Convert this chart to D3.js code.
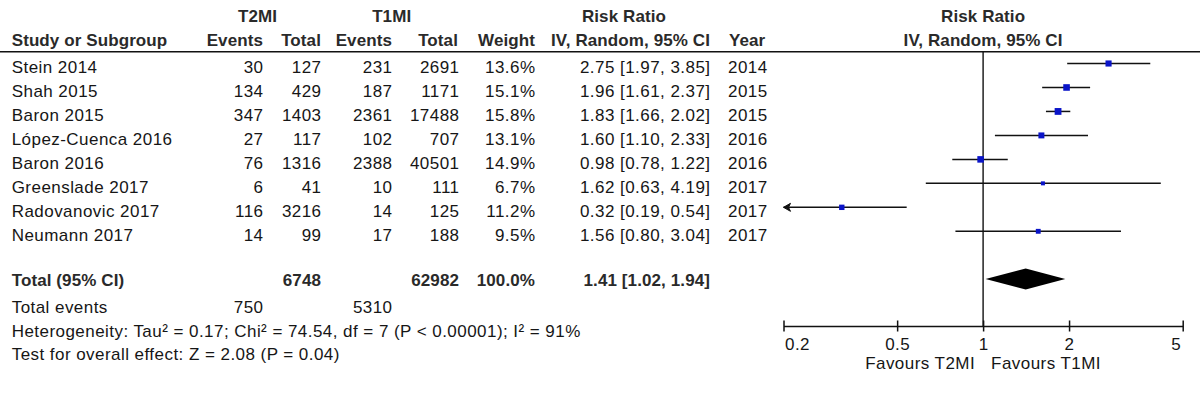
<!DOCTYPE html>
<html>
<head>
<meta charset="utf-8">
<script src="https://cdn.jsdelivr.net/npm/d3@7"></script>
<style>
  html, body { margin: 0; padding: 0; background: #fff; }
  svg { display: block; }
  text { font-family: "Liberation Sans", Arial, sans-serif; font-size: 17px; fill: #161616; letter-spacing: 0.45px; }
  .b { font-weight: bold; fill: #2a2a2a; letter-spacing: 0.1px; }
</style>
</head>
<body>
<svg id="chart" width="1200" height="400"></svg>
<script>
// ---- data ----
const studies   = ["Stein 2014", "Shah 2015", "Baron 2015", "López-Cuenca 2016", "Baron 2016", "Greenslade 2017", "Radovanovic 2017", "Neumann 2017"];
const t2Events  = [30, 134, 347, 27, 76, 6, 116, 14];
const t2Total   = [127, 429, 1403, 117, 1316, 41, 3216, 99];
const t1Events  = [231, 187, 2361, 102, 2388, 10, 14, 17];
const t1Total   = [2691, 1171, 17488, 707, 40501, 111, 125, 188];
const weights   = [13.6, 15.1, 15.8, 13.1, 14.9, 6.7, 11.2, 9.5];
const rr        = [2.75, 1.96, 1.83, 1.60, 0.98, 1.62, 0.32, 1.56];
const ciLow     = [1.97, 1.61, 1.66, 1.10, 0.78, 0.63, 0.19, 0.80];
const ciHigh    = [3.85, 2.37, 2.02, 2.33, 1.22, 4.19, 0.54, 3.04];
const years     = [2014, 2015, 2015, 2016, 2016, 2017, 2017, 2017];
const totalEvents = [750, 5310];
const totalN      = [6748, 62982];
const totalWeight = "100.0%";
const pooled      = [1.41, 1.02, 1.94];
const tickValues  = [0.2, 0.5, 1, 2, 5];
const favours     = ["Favours T2MI", "Favours T1MI"];
const hetText  = "Heterogeneity: Tau² = 0.17; Chi² = 74.54, df = 7 (P < 0.00001); I² = 91%";
const testText = "Test for overall effect: Z = 2.08 (P = 0.04)";

// ---- layout ----
const svg = d3.select("#chart");
svg.append("rect").attr("width", 1200).attr("height", 400).attr("fill", "#fff");

const x = d3.scaleLog().domain([0.2, 5]).range([783.5, 1182.7]);
const y = d3.scaleLinear().domain([0, studies.length - 1]).range([63.5, 231.3]);
const sq = d3.scaleLinear().domain(d3.extent(weights)).range([4, 6.8]);
const fmt2 = d3.format(".2f");
const fmtW = d3.format(".1f");
const textDy = 9.3;

const col = { study: 11.7, t2e: 263.5, t2n: 321.5, t1e: 392.5, t1n: 459.5, w: 535.5, rr: 710.5, year: 728 };

function txt(g, s, xx, yy, anchor, cls) {
  return g.append("text").attr("x", xx).attr("y", yy)
    .attr("text-anchor", anchor || "start").attr("class", cls || null).text(s);
}

// headers
const hdr = svg.append("g");
txt(hdr, "T2MI", 257.5, 22, "middle", "b");
txt(hdr, "T1MI", 391.7, 22, "middle", "b");
txt(hdr, "Risk Ratio", 624, 22, "middle", "b");
txt(hdr, "Risk Ratio", x(1), 22, "middle", "b");
txt(hdr, "Study or Subgroup", col.study, 46, "start", "b");
txt(hdr, "Events", 263, 46, "end", "b");
txt(hdr, "Total", 321, 46, "end", "b");
txt(hdr, "Events", 392, 46, "end", "b");
txt(hdr, "Total", 458, 46, "end", "b");
txt(hdr, "Weight", 535, 46, "end", "b");
txt(hdr, "IV, Random, 95% CI", 710, 46, "end", "b");
txt(hdr, "Year", col.year + 1, 46, "start", "b");
txt(hdr, "IV, Random, 95% CI", x(1), 46, "middle", "b");

svg.append("line").attr("x1", 0).attr("x2", 1200).attr("y1", 51.7).attr("y2", 51.7)
  .attr("stroke", "#111").attr("stroke-width", 1.6);

// study rows text
const rows = svg.append("g");
studies.forEach((s, i) => {
  const yy = y(i) + textDy;
  txt(rows, s, col.study, yy, "start");
  txt(rows, t2Events[i], col.t2e, yy, "end");
  txt(rows, t2Total[i], col.t2n, yy, "end");
  txt(rows, t1Events[i], col.t1e, yy, "end");
  txt(rows, t1Total[i], col.t1n, yy, "end");
  txt(rows, fmtW(weights[i]) + "%", col.w, yy, "end");
  txt(rows, `${fmt2(rr[i])} [${fmt2(ciLow[i])}, ${fmt2(ciHigh[i])}]`, col.rr, yy, "end");
  txt(rows, years[i], col.year, yy, "start");
});

// totals
const yTot = 279;
txt(rows, "Total (95% CI)", col.study, yTot + 7, "start", "b");
txt(rows, totalN[0], 321, yTot + 7, "end", "b");
txt(rows, totalN[1], 459, yTot + 7, "end", "b");
txt(rows, totalWeight, 535, yTot + 7, "end", "b");
txt(rows, `${fmt2(pooled[0])} [${fmt2(pooled[1])}, ${fmt2(pooled[2])}]`, 710, yTot + 7, "end", "b");
txt(rows, "Total events", col.study, 312.7, "start");
txt(rows, totalEvents[0], col.t2e, 312.7, "end");
txt(rows, totalEvents[1], col.t1e, 312.7, "end");
txt(rows, hetText, col.study, 336.7, "start");
txt(rows, testText, col.study, 359.5, "start");

// forest plot
const fp = svg.append("g");
const axisY = 326;
fp.append("line").attr("x1", x(1)).attr("x2", x(1)).attr("y1", 51.7).attr("y2", axisY)
  .attr("stroke", "#111").attr("stroke-width", 1.4);

const [d0, d1] = x.domain();
studies.forEach((s, i) => {
  const yy = y(i);
  const lo = Math.max(ciLow[i], d0), hi = Math.min(ciHigh[i], d1);
  fp.append("line").attr("x1", x(lo)).attr("x2", x(hi)).attr("y1", yy).attr("y2", yy)
    .attr("stroke", "#111").attr("stroke-width", 1.5);
  if (ciLow[i] < d0) {
    const ax = x(d0);
    fp.append("path").attr("d", `M${ax},${yy} L${ax + 7},${yy - 4} L${ax + 5},${yy} L${ax + 7},${yy + 4} Z`)
      .attr("fill", "#111").attr("stroke", "#111").attr("stroke-width", 1);
  }
  if (ciHigh[i] > d1) {
    const ax = x(d1);
    fp.append("path").attr("d", `M${ax},${yy} L${ax - 7},${yy - 4} L${ax - 5},${yy} L${ax - 7},${yy + 4} Z`)
      .attr("fill", "#111").attr("stroke", "#111").attr("stroke-width", 1);
  }
  const s2 = sq(weights[i]);
  fp.append("rect").attr("x", x(rr[i]) - s2 / 2).attr("y", yy - s2 / 2)
    .attr("width", s2).attr("height", s2).attr("fill", "#0a14c8");
});

// pooled diamond
fp.append("path")
  .attr("d", `M${x(pooled[1])},${yTot} L${x(pooled[0])},${yTot - 10.5} L${x(pooled[2])},${yTot} L${x(pooled[0])},${yTot + 10.5} Z`)
  .attr("fill", "#000");

// axis
const axis = d3.axisBottom(x).tickValues(tickValues).tickFormat(d => String(d))
  .tickSizeOuter(0).tickSizeInner(5.5).tickPadding(0);
const ag = fp.append("g").attr("transform", `translate(0,${axisY})`).call(axis);
ag.select(".domain").attr("stroke", "#111").attr("stroke-width", 1.5);
ag.selectAll(".tick line").attr("y1", -5.5).attr("y2", 5.5).attr("stroke", "#111").attr("stroke-width", 1.5);
ag.selectAll(".tick text")
  .attr("y", 23.5).attr("dy", null)
  .attr("font-family", null).attr("font-size", null)
  .style("font-size", "17px").attr("fill", "#161616")
  .attr("text-anchor", (d, i, n) => i === 0 ? "start" : (i === n.length - 1 ? "end" : "middle"))
  .attr("x", (d, i, n) => i === 0 ? 1 : (i === n.length - 1 ? -2 : 0));

txt(fp, favours[0], x(1) - 8, 369, "end");
txt(fp, favours[1], x(1) + 8, 369, "start");
</script>
</body>
</html>
